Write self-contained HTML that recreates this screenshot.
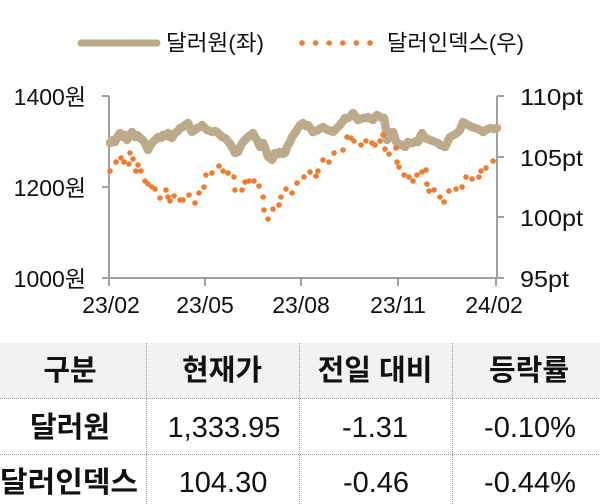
<!DOCTYPE html>
<html>
<head>
<meta charset="utf-8">
<style>
html,body{margin:0;padding:0;background:#fff;}
body{width:600px;height:504px;overflow:hidden;}
svg{display:block;}
text{font-family:"Liberation Sans","Noto Sans CJK KR",sans-serif;fill:#111;}
</style>
</head>
<body>
<svg width="600" height="504" viewBox="0 0 600 504" xmlns="http://www.w3.org/2000/svg">
  <!-- Legend -->
  <line x1="81" y1="43" x2="157" y2="43" stroke="#bcab8b" stroke-width="7" stroke-linecap="round"/>
  <text x="166" y="43" font-size="22" dominant-baseline="central" textLength="98" lengthAdjust="spacingAndGlyphs">달러원(좌)</text>
  <g fill="#ed7d31">
    <circle cx="302" cy="43" r="2.8"/>
    <circle cx="315.6" cy="43" r="2.8"/>
    <circle cx="329.2" cy="43" r="2.8"/>
    <circle cx="342.8" cy="43" r="2.8"/>
    <circle cx="356.4" cy="43" r="2.8"/>
    <circle cx="370" cy="43" r="2.8"/>
  </g>
  <text x="387" y="43" font-size="22" dominant-baseline="central" textLength="137" lengthAdjust="spacingAndGlyphs">달러인덱스(우)</text>

  <!-- Axes -->
  <g stroke="#a0a0a0" stroke-width="2" fill="none">
    <line x1="109" y1="96" x2="109" y2="279"/>
    <line x1="497" y1="96" x2="497" y2="279"/>
    <line x1="108" y1="278" x2="498" y2="278"/>
    <line x1="102" y1="96" x2="109" y2="96"/>
    <line x1="102" y1="187" x2="109" y2="187"/>
    <line x1="102" y1="278" x2="109" y2="278"/>
    <line x1="497" y1="96" x2="504" y2="96"/>
    <line x1="497" y1="157" x2="504" y2="157"/>
    <line x1="497" y1="217" x2="504" y2="217"/>
    <line x1="497" y1="278" x2="504" y2="278"/>
    <line x1="109" y1="278" x2="109" y2="286"/>
    <line x1="205" y1="278" x2="205" y2="286"/>
    <line x1="301" y1="278" x2="301" y2="286"/>
    <line x1="398" y1="278" x2="398" y2="286"/>
    <line x1="496" y1="278" x2="496" y2="286"/>
  </g>

  <!-- Left labels -->
  <g font-size="23" text-anchor="end">
    <text x="86" y="97" dominant-baseline="central">1400원</text>
    <text x="86" y="188" dominant-baseline="central">1200원</text>
    <text x="86" y="279" dominant-baseline="central">1000원</text>
  </g>
  <!-- Right labels -->
  <g font-size="23">
    <text x="520" y="97" dominant-baseline="central" textLength="63" lengthAdjust="spacingAndGlyphs">110pt</text>
    <text x="520" y="158" dominant-baseline="central" textLength="63" lengthAdjust="spacingAndGlyphs">105pt</text>
    <text x="520" y="218" dominant-baseline="central" textLength="63" lengthAdjust="spacingAndGlyphs">100pt</text>
    <text x="520" y="279" dominant-baseline="central" textLength="49" lengthAdjust="spacingAndGlyphs">95pt</text>
  </g>
  <!-- X labels -->
  <g font-size="23" text-anchor="middle">
    <text x="111" y="305" dominant-baseline="central">23/02</text>
    <text x="205" y="305" dominant-baseline="central">23/05</text>
    <text x="301" y="305" dominant-baseline="central">23/08</text>
    <text x="398" y="305" dominant-baseline="central">23/11</text>
    <text x="494" y="305" dominant-baseline="central">24/02</text>
  </g>

  <!-- Dollar-won line -->
  <polyline fill="none" stroke="#bcab8b" stroke-width="8.5" stroke-linejoin="round" stroke-linecap="round"
    points="110,143 113,140 115,142 118,136 120,133 123,137 125,135 127,140 130,135 132,132 135,137 137,135 140,138 143,140 146,145 148,150 150,146 152,143 155,140 158,137 161,138 163,135 166,136 168,133 170,137 172,138 175,133 178,131 180,128 183,127 185,125 188,123 190,128 192,132 195,130 197,128 200,127 202,125 205,128 207,130 210,131 212,132 215,131 217,132 220,135 222,137 225,138 227,140 230,144 232,147 235,153 238,152 240,147 243,142 246,139 248,137 251,135 253,133 255,137 257,140 260,147 263,143 266,150 268,157 270,158 272,160 275,153 278,154 280,152 283,154 285,153 287,147 290,142 292,137 295,133 297,130 300,125 303,123 306,126 308,125 311,129 313,132 316,131 318,130 321,128 323,127 326,129 328,130 331,131 333,132 336,129 340,125 343,121 345,118 348,118 350,117 353,113 356,117 358,120 361,119 363,118 366,118 368,117 371,119 373,120 375,117 377,115 380,117 382,118 384,118 386,130 387,140 390,133 393,132 395,138 396,142 398,143 400,145 403,145 405,147 408,142 411,143 413,143 416,141 418,142 420,137 422,133 425,138 428,139 430,140 433,141 435,142 438,143 440,145 443,146 445,147 448,141 450,137 454,135 457,133 460,130 463,122 466,124 468,125 472,127 475,128 478,129 480,130 483,132 486,130 490,128 494,129 497,128"/>

  <!-- Dollar index dots -->
  <g fill="#ed7d31">
    <circle cx="110" cy="171" r="2.8"/><circle cx="116" cy="162" r="2.8"/><circle cx="121" cy="158" r="2.8"/><circle cx="124" cy="162" r="2.8"/><circle cx="129" cy="164" r="2.8"/><circle cx="130" cy="153" r="2.8"/><circle cx="133" cy="159" r="2.8"/><circle cx="136" cy="171" r="2.8"/><circle cx="138" cy="165" r="2.8"/><circle cx="141" cy="171" r="2.8"/><circle cx="145" cy="181" r="2.8"/><circle cx="148" cy="184" r="2.8"/><circle cx="152" cy="187" r="2.8"/><circle cx="155" cy="189" r="2.8"/><circle cx="160" cy="198" r="2.8"/><circle cx="166" cy="190" r="2.8"/><circle cx="168" cy="197" r="2.8"/><circle cx="170" cy="201" r="2.8"/><circle cx="174" cy="196" r="2.8"/><circle cx="180" cy="200" r="2.8"/><circle cx="183" cy="200" r="2.8"/><circle cx="189" cy="195" r="2.8"/><circle cx="195" cy="203" r="2.8"/><circle cx="199" cy="193" r="2.8"/><circle cx="204" cy="187" r="2.8"/><circle cx="206" cy="175" r="2.8"/><circle cx="212" cy="173" r="2.8"/><circle cx="219" cy="166" r="2.8"/><circle cx="223" cy="171" r="2.8"/><circle cx="228" cy="173" r="2.8"/><circle cx="234" cy="177" r="2.8"/><circle cx="235" cy="190" r="2.8"/><circle cx="242" cy="190" r="2.8"/><circle cx="245" cy="182" r="2.8"/><circle cx="249" cy="181" r="2.8"/><circle cx="254" cy="181" r="2.8"/><circle cx="259" cy="186" r="2.8"/><circle cx="263" cy="197" r="2.8"/><circle cx="264" cy="210" r="2.8"/><circle cx="268" cy="219" r="2.8"/><circle cx="273" cy="209" r="2.8"/><circle cx="279" cy="205" r="2.8"/><circle cx="281" cy="197" r="2.8"/><circle cx="286" cy="189" r="2.8"/><circle cx="292" cy="193" r="2.8"/><circle cx="297" cy="183" r="2.8"/><circle cx="304" cy="177" r="2.8"/><circle cx="310" cy="172" r="2.8"/><circle cx="316" cy="176" r="2.8"/><circle cx="318" cy="171" r="2.8"/><circle cx="323" cy="160" r="2.8"/><circle cx="329" cy="162" r="2.8"/><circle cx="334" cy="153" r="2.8"/><circle cx="343" cy="150" r="2.8"/><circle cx="347" cy="137" r="2.8"/><circle cx="351" cy="138" r="2.8"/><circle cx="354" cy="141" r="2.8"/><circle cx="361" cy="145" r="2.8"/><circle cx="366" cy="141" r="2.8"/><circle cx="372" cy="143" r="2.8"/><circle cx="375" cy="145" r="2.8"/><circle cx="380" cy="141" r="2.8"/><circle cx="383" cy="135" r="2.8"/><circle cx="385" cy="149" r="2.8"/><circle cx="389" cy="154" r="2.8"/><circle cx="396" cy="148" r="2.8"/><circle cx="397" cy="162" r="2.8"/><circle cx="399" cy="167" r="2.8"/><circle cx="404" cy="175" r="2.8"/><circle cx="409" cy="177" r="2.8"/><circle cx="413" cy="181" r="2.8"/><circle cx="417" cy="175" r="2.8"/><circle cx="422" cy="172" r="2.8"/><circle cx="426" cy="170" r="2.8"/><circle cx="427" cy="184" r="2.8"/><circle cx="429" cy="191" r="2.8"/><circle cx="434" cy="190" r="2.8"/><circle cx="440" cy="197" r="2.8"/><circle cx="444" cy="202" r="2.8"/><circle cx="449" cy="191" r="2.8"/><circle cx="456" cy="189" r="2.8"/><circle cx="462" cy="187" r="2.8"/><circle cx="466" cy="177" r="2.8"/><circle cx="472" cy="179" r="2.8"/><circle cx="479" cy="177" r="2.8"/><circle cx="481" cy="171" r="2.8"/><circle cx="486" cy="168" r="2.8"/><circle cx="493" cy="161" r="2.8"/>
  </g>

  <!-- Table -->
  <rect x="0" y="343" width="600" height="55" fill="#f2f2f2"/>
  <g stroke="#9a9a9a" stroke-width="1" stroke-dasharray="1,1" fill="none">
    <line x1="0" y1="398.5" x2="600" y2="398.5"/>
    <line x1="0" y1="454.5" x2="600" y2="454.5"/>
    <line x1="146.5" y1="343" x2="146.5" y2="504"/>
    <line x1="299.5" y1="343" x2="299.5" y2="504"/>
    <line x1="452.5" y1="343" x2="452.5" y2="504"/>
  </g>
  <g font-size="29" font-weight="bold" text-anchor="middle">
    <text x="70" y="371" dominant-baseline="central">구분</text>
    <text x="222" y="371" dominant-baseline="central">현재가</text>
    <text x="375" y="371" dominant-baseline="central">전일 대비</text>
    <text x="529" y="371" dominant-baseline="central">등락률</text>
    <text x="70" y="428" dominant-baseline="central">달러원</text>
    <text x="69" y="483" dominant-baseline="central" textLength="138" lengthAdjust="spacingAndGlyphs">달러인덱스</text>
  </g>
  <g font-size="29" text-anchor="middle">
    <text x="224" y="428" dominant-baseline="central">1,333.95</text>
    <text x="375" y="428" dominant-baseline="central">-1.31</text>
    <text x="530" y="428" dominant-baseline="central">-0.10%</text>
    <text x="223" y="483" dominant-baseline="central">104.30</text>
    <text x="376" y="483" dominant-baseline="central">-0.46</text>
    <text x="530" y="483" dominant-baseline="central">-0.44%</text>
  </g>
</svg>
</body>
</html>
